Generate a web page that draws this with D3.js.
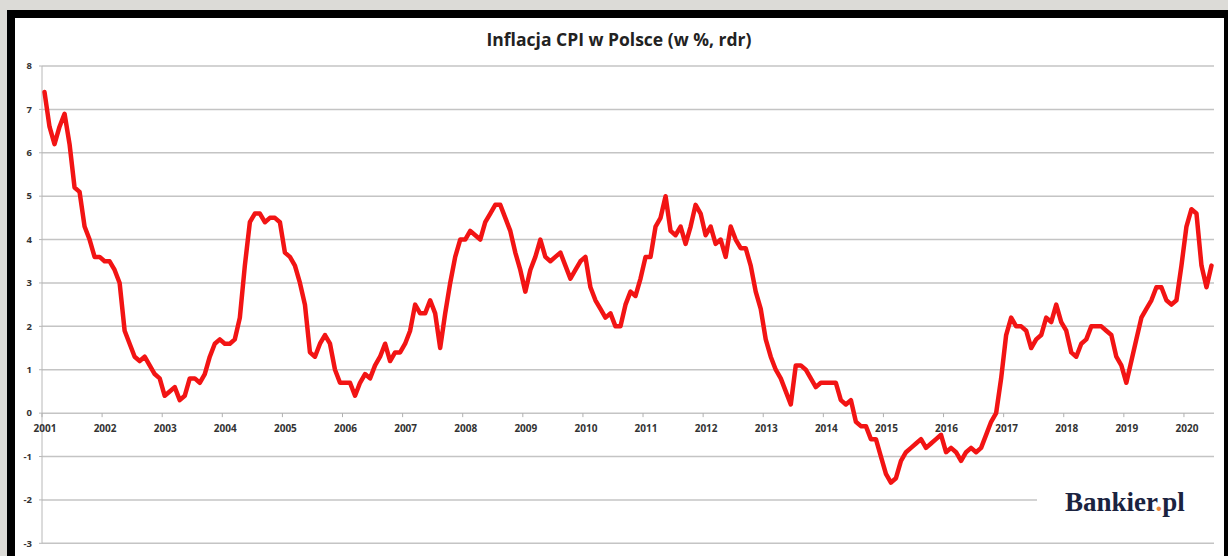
<!DOCTYPE html>
<html><head><meta charset="utf-8">
<script src="https://cdn.jsdelivr.net/npm/d3@7"></script>
<style>
body{margin:0;background:#dcdbd7;}
svg{display:block}
</style>
</head><body>
<svg id="chart" width="1228" height="556"></svg>
<script>
// ---- data ----
const title = "Inflacja CPI w Polsce (w %, rdr)";
const yearLabels = [2001,2002,2003,2004,2005,2006,2007,2008,2009,2010,2011,2012,2013,2014,2015,2016,2017,2018,2019,2020];
const yTickValues = [-3,-2,-1,0,1,2,3,4,5,6,7,8];
const monthsCount = 234; // Jan 2001 .. Jun 2020
const cpi = [
  // 2001
  7.4,6.6,6.2,6.6,6.9,6.2,5.2,5.1,4.3,4.0,3.6,3.6,
  // 2002
  3.5,3.5,3.3,3.0,1.9,1.6,1.3,1.2,1.3,1.1,0.9,0.8,
  // 2003
  0.4,0.5,0.6,0.3,0.4,0.8,0.8,0.7,0.9,1.3,1.6,1.7,
  // 2004
  1.6,1.6,1.7,2.2,3.4,4.4,4.6,4.6,4.4,4.5,4.5,4.4,
  // 2005
  3.7,3.6,3.4,3.0,2.5,1.4,1.3,1.6,1.8,1.6,1.0,0.7,
  // 2006
  0.7,0.7,0.4,0.7,0.9,0.8,1.1,1.3,1.6,1.2,1.4,1.4,
  // 2007
  1.6,1.9,2.5,2.3,2.3,2.6,2.3,1.5,2.3,3.0,3.6,4.0,
  // 2008
  4.0,4.2,4.1,4.0,4.4,4.6,4.8,4.8,4.5,4.2,3.7,3.3,
  // 2009
  2.8,3.3,3.6,4.0,3.6,3.5,3.6,3.7,3.4,3.1,3.3,3.5,
  // 2010
  3.6,2.9,2.6,2.4,2.2,2.3,2.0,2.0,2.5,2.8,2.7,3.1,
  // 2011
  3.6,3.6,4.3,4.5,5.0,4.2,4.1,4.3,3.9,4.3,4.8,4.6,
  // 2012
  4.1,4.3,3.9,4.0,3.6,4.3,4.0,3.8,3.8,3.4,2.8,2.4,
  // 2013
  1.7,1.3,1.0,0.8,0.5,0.2,1.1,1.1,1.0,0.8,0.6,0.7,
  // 2014
  0.7,0.7,0.7,0.3,0.2,0.3,-0.2,-0.3,-0.3,-0.6,-0.6,-1.0,
  // 2015
  -1.4,-1.6,-1.5,-1.1,-0.9,-0.8,-0.7,-0.6,-0.8,-0.7,-0.6,-0.5,
  // 2016
  -0.9,-0.8,-0.9,-1.1,-0.9,-0.8,-0.9,-0.8,-0.5,-0.2,0.0,0.8,
  // 2017
  1.8,2.2,2.0,2.0,1.9,1.5,1.7,1.8,2.2,2.1,2.5,2.1,
  // 2018
  1.9,1.4,1.3,1.6,1.7,2.0,2.0,2.0,1.9,1.8,1.3,1.1,
  // 2019
  0.7,1.2,1.7,2.2,2.4,2.6,2.9,2.9,2.6,2.5,2.6,3.4,
  // 2020
  4.3,4.7,4.6,3.4,2.9,3.4
];

// ---- layout ----
const svg = d3.select("#chart");
const W = 1228, H = 556;
const plot = {left: 42, right: 1214, top: 66, bottom: 543.3};

// frame
svg.append("rect").attr("x",0).attr("y",0).attr("width",W).attr("height",H).attr("fill","#dcdbd7");
svg.append("rect").attr("x",7).attr("y",10).attr("width",W-7).attr("height",H-10).attr("fill","#000");
svg.append("rect").attr("x",15).attr("y",18).attr("width",1209).attr("height",H-18).attr("fill","#fff");

const x = d3.scaleLinear().domain([0, monthsCount]).range([plot.left, plot.right]);
const y = d3.scaleLinear().domain([-3, 8]).range([plot.bottom, plot.top]);

// gridlines
svg.append("g").selectAll("line").data(yTickValues).join("line")
  .attr("x1", plot.left).attr("x2", plot.right)
  .attr("y1", d => y(d)).attr("y2", d => y(d))
  .attr("stroke", "#c4c4c4").attr("stroke-width", 1.5);

// y axis line and ticks
svg.append("line").attr("x1",plot.left).attr("x2",plot.left).attr("y1",plot.top).attr("y2",plot.bottom)
  .attr("stroke","#b8b8b8").attr("stroke-width",1);
svg.append("g").selectAll("line").data(yTickValues).join("line")
  .attr("x1", plot.left-3).attr("x2", plot.left)
  .attr("y1", d => y(d)).attr("y2", d => y(d))
  .attr("stroke", "#b8b8b8").attr("stroke-width", 1);

// y labels
svg.append("g").selectAll("text").data(yTickValues).join("text")
  .attr("x", 32).attr("y", d => y(d)).attr("dy","0.35em")
  .attr("text-anchor","end")
  .attr("font-family","'Open Sans', sans-serif").attr("font-weight","bold")
  .attr("font-size", 9.5).attr("fill","#333")
  .text(d => d);

// x axis (at zero) ticks & labels
const yearIdx = yearLabels.map((yr,i) => i*12);
svg.append("g").selectAll("line").data(yearIdx).join("line")
  .attr("x1", d => x(d)).attr("x2", d => x(d))
  .attr("y1", y(0)).attr("y2", y(0)+4)
  .attr("stroke","#b0b0b0").attr("stroke-width",1);
svg.append("g").selectAll("text").data(yearLabels).join("text")
  .attr("x", (d,i) => x(i*12)+3).attr("y", y(0)+19)
  .attr("text-anchor","middle")
  .attr("font-family","'Open Sans', sans-serif").attr("font-weight","bold")
  .attr("font-size", 10).attr("fill","#333")
  .text(d => d);

// title
svg.append("text").attr("x", 619).attr("y", 46).attr("text-anchor","middle")
  .attr("font-family","'Open Sans', sans-serif").attr("font-weight","bold")
  .attr("font-size", 17.5).attr("fill","#222")
  .text(title);

// logo box
svg.append("rect").attr("x",1037).attr("y",472).attr("width",plot.right-1037).attr("height",56).attr("fill","#fff");
const logo = svg.append("text").attr("x", 1065).attr("y", 511)
  .attr("font-family","'Liberation Serif', 'DejaVu Serif', serif").attr("font-weight","bold")
  .attr("font-size", 27).attr("fill","#1b2340");
logo.append("tspan").text("Bankier");
logo.append("tspan").attr("fill","#e8833a").text(".");
logo.append("tspan").text("pl");

// line
const line = d3.line().x((d,i) => x(i+0.5)).y(d => y(d)).curve(d3.curveLinear);
svg.append("path").datum(cpi).attr("d", line)
  .attr("fill","none").attr("stroke","#f21414").attr("stroke-width",4.5)
  .attr("stroke-linejoin","round").attr("stroke-linecap","round");
</script>
</body></html>
